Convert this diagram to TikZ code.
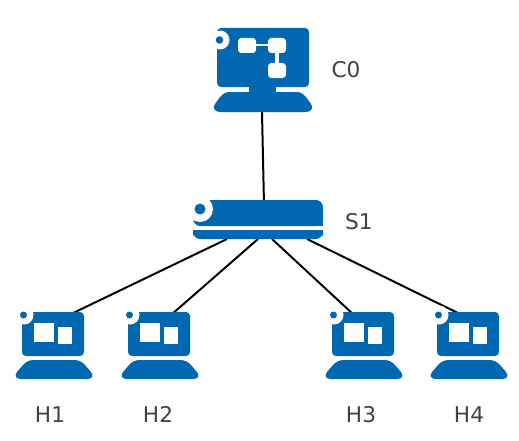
\documentclass[tikz,border=0pt]{standalone}
\usepackage{fontspec}
\setmainfont{DejaVu Sans}
\definecolor{Cobalt}{HTML}{0067B0}
\definecolor{Ink}{HTML}{3E4348}
\tikzset{
  link/.style={black,line width=1.7pt},
  tag/.style={font=\fontsize{18.5pt}{20pt}\selectfont,text=Ink,inner sep=0pt,anchor=base},
  hostbox/.style={minimum width=23.4mm,minimum height=20mm,inner sep=0pt},
  pics/hosticon/.style={code={
    % screen, then base, then the two windows
    \fill[Cobalt,rounded corners=1.2mm] (-31,-33) rectangle (31,11);
    \fill[Cobalt] (-19,15) .. controls (-24,15) and (-27,17) .. (-30,20) -- (-36,27)
      .. controls (-39,31) and (-37,34) .. (-32,34) -- (34,34)
      .. controls (39,34) and (41,31) .. (38,27) -- (32,20)
      .. controls (29,17) and (26,15) .. (21,15) -- cycle;
    \fill[white] (-29,-30) circle (9.5);
    \fill[Cobalt] (-29.5,-30) circle (3.5);
    \fill[white] (-19,-22) rectangle (1,-3);
    \fill[white] (5,-18) rectangle (19,-1);
  }},
}
\begin{document}
\begin{tikzpicture}[x=.3mm,y=-.3mm]
  \useasboundingbox (0,0) rectangle (519,440);
  \fill[white] (0,0) rectangle (519,440);
  % devices are placed first, connectors go behind the icons
  \node[minimum width=29.4mm,minimum height=25.2mm,inner sep=0pt] (c0) at (262,70) {};
  \node[minimum width=39mm,minimum height=11.7mm,inner sep=0pt] (s1) at (258,219.5) {};
  \node[hostbox] (h1) at (53,345) {};
  \node[hostbox] (h2) at (159,345) {};
  \node[hostbox] (h3) at (363,345) {};
  \node[hostbox] (h4) at (468,345) {};
  \coordinate (p0) at (264,205);
  \coordinate (p1) at (227,239);
  \coordinate (p2) at (258,239);
  \coordinate (p3) at (272,239);
  \coordinate (p4) at (307,239);
  \coordinate (t1) at (69,315);
  \coordinate (t2) at (171,315);
  \coordinate (t3) at (354,315);
  \coordinate (t4) at (462,315);
  \draw[link] (c0.south) -- (p0);
  \draw[link] (p1) -- (t1);
  \draw[link] (p2) -- (t2);
  \draw[link] (p3) -- (t3);
  \draw[link] (p4) -- (t4);
  % controller
  \fill[Cobalt,rounded corners=1.2mm] (217,28) rectangle (309,87);
  \fill[Cobalt] (249,87) rectangle (276,93);
  \fill[Cobalt] (230,92) .. controls (225,92) and (223,94) .. (220,97) -- (215,104)
    .. controls (212,108) and (215,112) .. (220,112) -- (306,112)
    .. controls (311,112) and (314,108) .. (311,104) -- (306,97)
    .. controls (303,94) and (301,92) .. (296,92) -- cycle;
  \fill[white] (220,40) circle (9.5);
  \fill[Cobalt] (219.5,40) circle (3.8);
  \fill[white,rounded corners=1mm] (238,38) rectangle (256,53);
  \fill[white,rounded corners=1mm] (268,38) rectangle (286,53);
  \fill[white,rounded corners=1mm] (268,63) rectangle (286,78);
  \draw[white,line width=.6mm] (256,45.5) -- (268,45.5);
  \draw[white,line width=1mm] (277,53) -- (277,63);
  % switch
  \fill[Cobalt,rounded corners=2.2mm] (193,200) rectangle (323,226);
  \fill[Cobalt] (300,215) rectangle (323,226);
  \fill[Cobalt,rounded corners=2.2mm] (193,230) rectangle (323,239);
  \fill[Cobalt] (193,230) rectangle (323,234);
  \fill[white] (200,209) circle (13);
  \fill[Cobalt] (200,209) circle (5.5);
  % hosts
  \pic at (h1) {hosticon};
  \pic at (h2) {hosticon};
  \pic at (h3) {hosticon};
  \pic at (h4) {hosticon};
  \node[tag] (lc0) at (346,78) {C0};
  \node[tag] (ls1) at (359,229) {S1};
  \node[tag] (lh1) at (50,422) {H1};
  \node[tag] (lh2) at (158,422) {H2};
  \node[tag] (lh3) at (361,422) {H3};
  \node[tag] (lh4) at (469,422) {H4};
\end{tikzpicture}
\end{document}
